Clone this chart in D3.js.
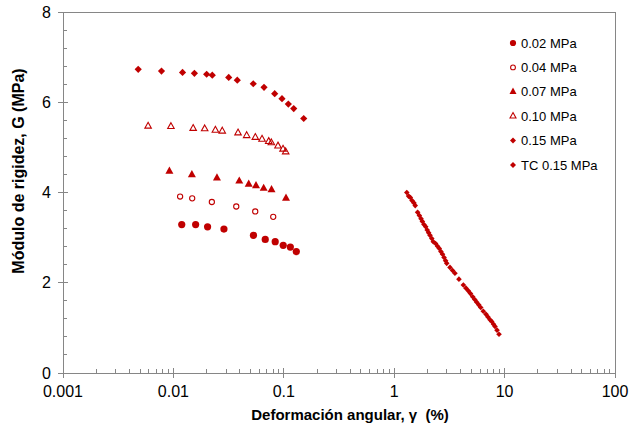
<!DOCTYPE html>
<html>
<head>
<meta charset="utf-8">
<script src="https://cdn.jsdelivr.net/npm/d3@7"></script>
<style>
  body { margin: 0; background: #fff; }
  svg text { font-family: "Liberation Sans", Arial, sans-serif; fill: #000; }
</style>
</head>
<body>
<div id="chart"></div>
<script>
// shear strain (%) and stiffness modulus (MPa)
const strain002 = [0.0119, 0.0159, 0.0204, 0.0287, 0.0531, 0.0679, 0.0836, 0.0988, 0.1146, 0.1298];
const g002      = [3.29, 3.29, 3.24, 3.19, 3.05, 2.96, 2.91, 2.83, 2.79, 2.69];

const strain004 = [0.0115, 0.0148, 0.0223, 0.0371, 0.0551, 0.0802];
const g004      = [3.91, 3.87, 3.79, 3.69, 3.58, 3.46];

const strain007 = [0.0092, 0.0147, 0.0248, 0.0395, 0.0481, 0.0560, 0.0657, 0.0774, 0.1047];
const g007      = [4.47, 4.39, 4.32, 4.25, 4.18, 4.15, 4.09, 4.06, 3.87];

const strain010 = [0.0059, 0.0095, 0.0151, 0.0192, 0.0240, 0.0277, 0.0385, 0.0461, 0.0552, 0.0635, 0.0730, 0.0771, 0.0886, 0.0984, 0.1040];
const g010      = [5.47, 5.46, 5.42, 5.41, 5.38, 5.36, 5.32, 5.26, 5.22, 5.18, 5.13, 5.10, 5.03, 4.96, 4.90];

const strain015 = [0.0048, 0.0078, 0.0121, 0.0155, 0.0200, 0.0225, 0.0317, 0.0379, 0.0529, 0.0662, 0.0827, 0.0963, 0.1099, 0.1230, 0.1515];
const g015      = [6.73, 6.69, 6.66, 6.64, 6.62, 6.60, 6.55, 6.49, 6.41, 6.33, 6.19, 6.08, 5.96, 5.86, 5.64];

const strainTC = [1.30, 1.35, 1.40, 1.45, 1.51, 1.55, 1.63, 1.69, 1.75, 1.80, 1.86, 1.93, 1.99, 2.05, 2.11, 2.19,
                  2.26, 2.37, 2.47, 2.56, 2.65, 2.74, 2.83, 2.92, 2.99, 3.20, 3.38, 3.55, 3.86, 4.23, 4.47, 4.69,
                  4.91, 5.14, 5.36, 5.59, 5.83, 6.08, 6.41, 6.79, 7.07, 7.38, 7.64, 7.94, 8.19, 8.54, 8.90];
const gTC      = [4.00, 3.92, 3.89, 3.82, 3.77, 3.71, 3.56, 3.49, 3.42, 3.36, 3.29, 3.24, 3.17, 3.11, 3.05, 2.98,
                  2.91, 2.87, 2.81, 2.76, 2.69, 2.63, 2.56, 2.49, 2.43, 2.34, 2.27, 2.21, 2.08, 1.95, 1.88, 1.82,
                  1.76, 1.69, 1.63, 1.57, 1.51, 1.45, 1.37, 1.30, 1.24, 1.18, 1.14, 1.08, 1.03, 0.95, 0.86];

const seriesNames = ["0.02 MPa", "0.04 MPa", "0.07 MPa", "0.10 MPa", "0.15 MPa", "TC 0.15 MPa"];
const xTickValues = [0.001, 0.01, 0.1, 1, 10, 100];
const xTickLabels = ["0.001", "0.01", "0.1", "1", "10", "100"];
const yTickValues = [0, 2, 4, 6, 8];

const red = "#c00000";
const W = 631, H = 433;
const plot = {left: 63, right: 615, top: 12, bottom: 373};

const x = d3.scaleLog().domain([0.001, 100]).range([plot.left, plot.right]);
const y = d3.scaleLinear().domain([0, 8]).range([plot.bottom, plot.top]);

// marker shapes
const circle = r => d3.symbol(d3.symbolCircle, Math.PI * r * r)();
const triangle = w => {
  const h = w * 0.9;
  return `M0,${-h * 2 / 3}L${w / 2},${h / 3}L${-w / 2},${h / 3}Z`;
};
const diamond = s => `M0,${-s}L${s},0L0,${s}L${-s},0Z`;

const series = [
  {name: seriesNames[0], xs: strain002, ys: g002, path: circle(3.6), legend: circle(3.1), fill: red, stroke: "none"},
  {name: seriesNames[1], xs: strain004, ys: g004, path: circle(2.6), legend: circle(2.4), fill: "none", stroke: red},
  {name: seriesNames[2], xs: strain007, ys: g007, path: triangle(8), legend: triangle(7), fill: red, stroke: "none"},
  {name: seriesNames[3], xs: strain010, ys: g010, path: triangle(6.5), legend: triangle(6), fill: "none", stroke: red},
  {name: seriesNames[4], xs: strain015, ys: g015, path: diamond(3.6), legend: diamond(3), fill: red, stroke: "none"},
  {name: seriesNames[5], xs: strainTC, ys: gTC, path: diamond(2.8), legend: diamond(3), fill: red, stroke: "none"},
];

const svg = d3.select("#chart").append("svg")
  .attr("width", W).attr("height", H);

const axisColor = "#868686";

// frame
svg.append("rect")
  .attr("x", plot.left).attr("y", plot.top)
  .attr("width", plot.right - plot.left).attr("height", plot.bottom - plot.top)
  .attr("fill", "none").attr("stroke", axisColor).attr("stroke-width", 1)
  .attr("shape-rendering", "crispEdges");

// x ticks: majors cross the axis, minors point inward
const xMinor = [];
for (let e = -3; e < 2; e++) for (let m = 2; m <= 9; m++) xMinor.push(m * Math.pow(10, e));

svg.append("g").selectAll("line").data(xTickValues).join("line")
  .attr("x1", d => x(d)).attr("x2", d => x(d))
  .attr("y1", plot.bottom - 5).attr("y2", plot.bottom + 5)
  .attr("stroke", axisColor).attr("shape-rendering", "crispEdges");
svg.append("g").selectAll("line").data(xMinor).join("line")
  .attr("x1", d => x(d)).attr("x2", d => x(d))
  .attr("y1", plot.bottom - 4).attr("y2", plot.bottom)
  .attr("stroke", axisColor).attr("shape-rendering", "crispEdges");

svg.append("g").selectAll("text").data(xTickValues).join("text")
  .attr("x", d => x(d)).attr("y", plot.bottom + 24)
  .attr("text-anchor", "middle").attr("font-size", 16)
  .text((d, i) => xTickLabels[i]);

// y ticks
const yMinor = d3.range(0, 8.001, 0.4).filter(v => Math.abs(v / 2 - Math.round(v / 2)) > 1e-6);
svg.append("g").selectAll("line").data(yTickValues).join("line")
  .attr("x1", plot.left - 5).attr("x2", plot.left + 5)
  .attr("y1", d => y(d)).attr("y2", d => y(d))
  .attr("stroke", axisColor).attr("shape-rendering", "crispEdges");
svg.append("g").selectAll("line").data(yMinor).join("line")
  .attr("x1", plot.left).attr("x2", plot.left + 4)
  .attr("y1", d => y(d)).attr("y2", d => y(d))
  .attr("stroke", axisColor).attr("shape-rendering", "crispEdges");

svg.append("g").selectAll("text").data(yTickValues).join("text")
  .attr("x", plot.left - 12).attr("y", d => y(d) + 5.5)
  .attr("text-anchor", "end").attr("font-size", 16)
  .text(d => d);

// axis titles
svg.append("text")
  .attr("x", 350).attr("y", 420)
  .attr("text-anchor", "middle").attr("font-size", 15).attr("font-weight", "bold")
  .style("white-space", "pre")
  .text("Deformación angular, γ  (%)");

svg.append("text")
  .attr("transform", "translate(24,171) rotate(-90)")
  .attr("text-anchor", "middle").attr("font-size", 16).attr("font-weight", "bold")
  .text("Módulo de rigidez, G (MPa)");

// data
series.forEach(s => {
  svg.append("g").selectAll("path").data(s.xs).join("path")
    .attr("transform", (d, i) => `translate(${x(d)},${y(s.ys[i])})`)
    .attr("d", s.path)
    .attr("fill", s.fill)
    .attr("stroke", s.stroke)
    .attr("stroke-width", 1.1);
});

// legend
const legend = svg.append("g").attr("transform", "translate(513,43)");
series.forEach((s, i) => {
  const row = legend.append("g").attr("transform", `translate(0,${i * 24.4})`);
  row.append("path").attr("d", s.legend)
    .attr("fill", s.fill).attr("stroke", s.stroke).attr("stroke-width", 1.1);
  row.append("text").attr("x", 8).attr("y", 4.5)
    .attr("font-size", 13).text(s.name);
});
</script>
</body>
</html>
